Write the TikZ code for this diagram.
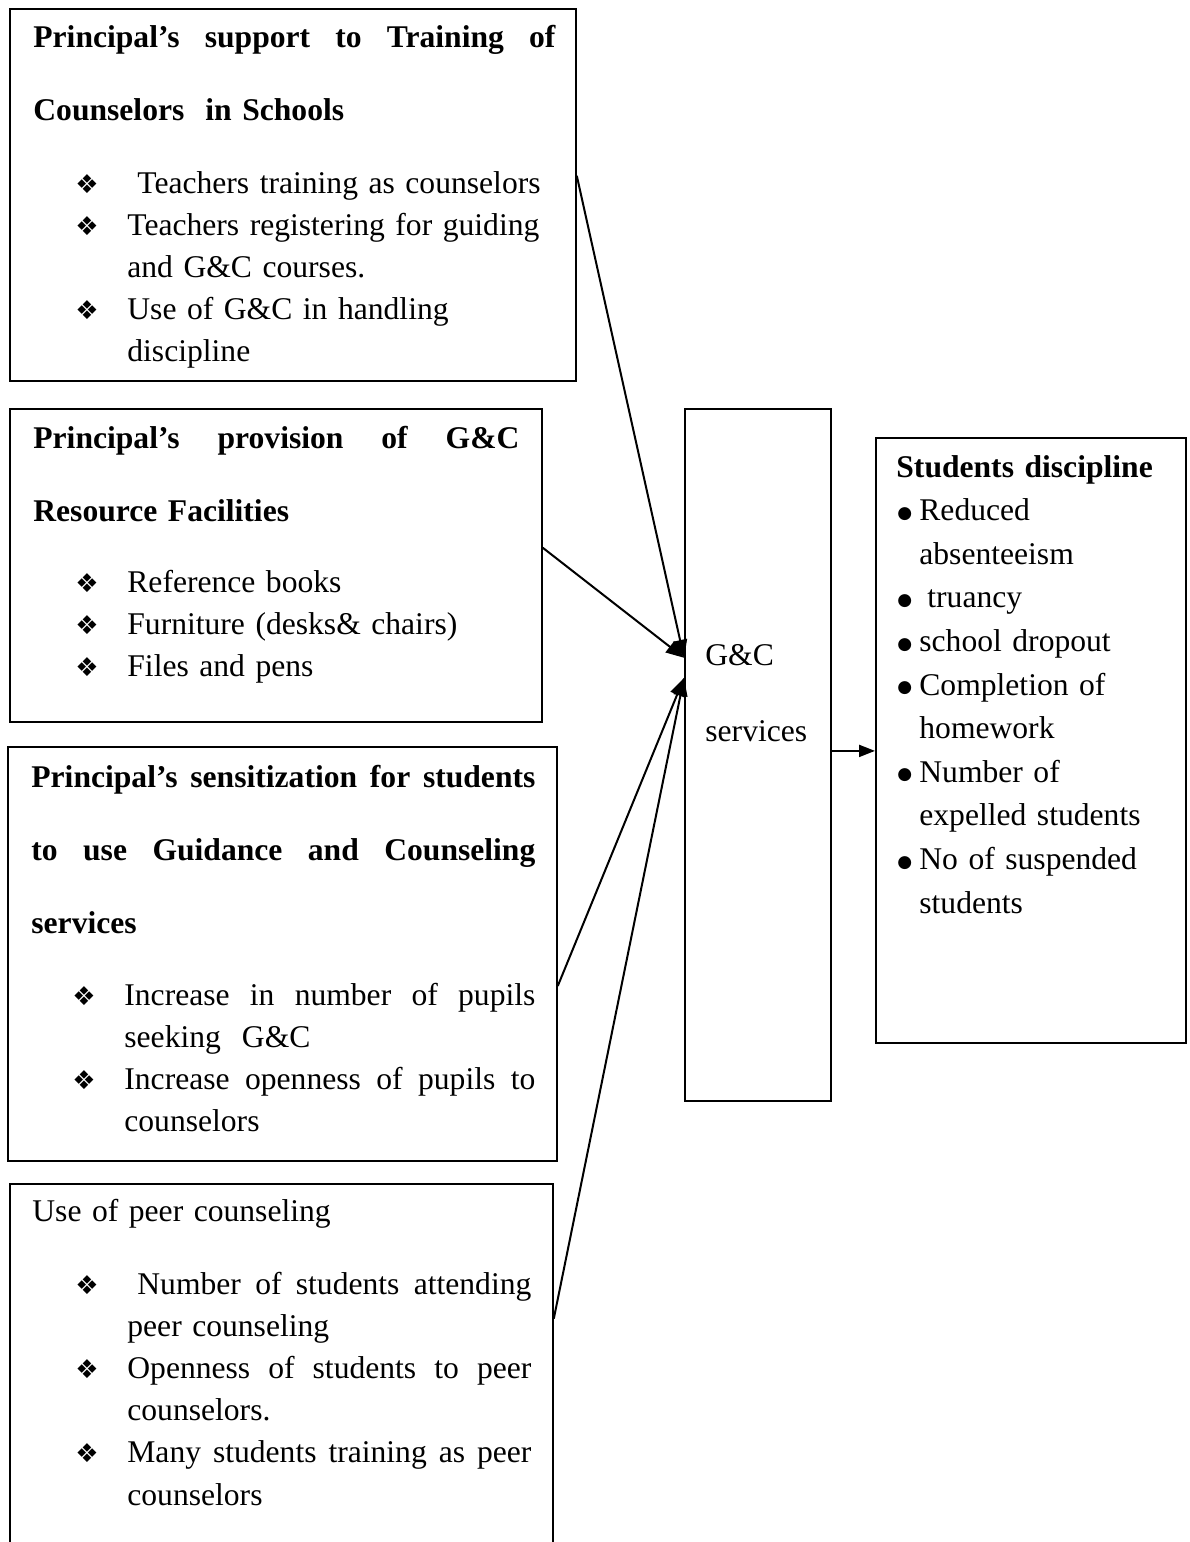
\documentclass[tikz,border=0pt]{standalone}
\usepackage{fontspec}
\setmainfont{Liberation Serif}
\newfontfamily\djv{DejaVu Sans}
\usetikzlibrary{arrows.meta,calc}
\newcommand{\dia}{{\djv\fontsize{13pt}{13pt}\selectfont ❖}}
\newcommand{\itm}{\makebox[26pt][l]{\dia}}
\newcommand{\cnt}{\hspace*{26pt}}
\newcommand{\bul}{\makebox[11.5pt][l]{\hspace*{0.5pt}\raisebox{1.2pt}{\djv\fontsize{8.5pt}{8.5pt}\selectfont ●}}}
\newcommand{\bcnt}{\hspace*{11.5pt}}
\newcommand{\jl}[2]{\leavevmode\hbox to #1{\spaceskip=0.25em plus 1fil\relax\xspaceskip=\spaceskip #2}}
\tikzset{
  frame/.style={draw, line width=0.9pt, rectangle, inner sep=0pt, anchor=north west},
  txt/.style={anchor=base west, inner sep=0pt, align=left, text width=265pt,
    font=\fontsize{15.8pt}{21.1pt}\selectfont},
  link/.style={draw, line width=1pt, -{Triangle[length=9pt,width=7pt]}},
  shortlink/.style={draw, line width=1pt, -{Triangle[length=8pt,width=6pt]}},
}
\begin{document}
\begin{tikzpicture}[x=0.5pt,y=-0.5pt]
\useasboundingbox (0,0) rectangle (1189,1542);
\clip (0,0) rectangle (1189,1542);
% boxes
\node[frame, minimum width=283pt, minimum height=186pt] (b1) at (9,8) {};
\node[frame, minimum width=266pt, minimum height=156.5pt] (b2) at (9,408) {};
\node[frame, minimum width=274.5pt, minimum height=207pt] (b3) at (7,746) {};
\node[frame, minimum width=271.5pt, minimum height=188.5pt] (b4) at (9,1183) {};
\node[frame, minimum width=73pt, minimum height=346pt] (gc) at (684,408) {};
\node[frame, minimum width=155pt, minimum height=302.5pt] (sd) at (875,437) {};
% texts
\node[txt] (h1) at (33,47) {\bfseries\jl{261pt}{Principal’s support to Training of}\\[15.4pt]Counselors\ \ in Schools};
\node[txt] (l1) at (75,193) {\itm\hspace*{5pt}Teachers training as counselors\\ \itm Teachers registering for guiding\\ \cnt and G\&C courses.\\ \itm Use of G\&C in handling\\ \cnt discipline};
\node[txt] (h2) at (33,448) {\bfseries\jl{243pt}{Principal’s provision of G\&C}\\[15.4pt]Resource Facilities};
\node[txt] (l2) at (75,592) {\itm Reference books\\ \itm Furniture (desks\& chairs)\\ \itm Files and pens};
\node[txt] (h3) at (31,787) {\bfseries\jl{252pt}{Principal’s sensitization for students}\\[15.4pt]\jl{252pt}{to use Guidance and Counseling}\\[15.4pt]services};
\node[txt] (l3) at (72,1005) {\itm\jl{205.5pt}{Increase in number of pupils}\\ \cnt seeking\ \ G\&C\\ \itm\jl{205.5pt}{Increase openness of pupils to}\\ \cnt counselors};
\node[txt] (h4) at (32,1221) {Use of peer counseling};
\node[txt] (l4) at (75,1294) {\itm\hspace*{5pt}\jl{197pt}{Number of students attending}\\ \cnt peer counseling\\ \itm\jl{202pt}{Openness of students to peer}\\ \cnt counselors.\\ \itm\jl{202pt}{Many students training as peer}\\ \cnt counselors};
\node[txt, text width=60pt] (g1) at (705,665) {G\&C\\[17pt]services};
\node[txt, text width=145pt, font=\fontsize{15.8pt}{21.8pt}\selectfont] (s1) at (896,477) {\textbf{Students discipline}\\ \bul Reduced\\ \bcnt absenteeism\\ \bul\hspace*{4pt}truancy\\ \bul school dropout\\ \bul Completion of\\ \bcnt homework\\ \bul Number of\\ \bcnt expelled students\\ \bul No of suspended\\ \bcnt students};
% connectors
\coordinate (tA) at ($(gc.north west)!0.36!(gc.south west)$);
\coordinate (tB) at ($(gc.north west)!0.389!(gc.south west)$);
\draw[link] ($(b1.north east)!0.449!(b1.south east)$) -- (tA);
\draw[link] ($(b2.north east)!0.444!(b2.south east)$) -- (tA);
\draw[link] ($(b3.north east)!0.577!(b3.south east)$) -- (tB);
\draw[link] ($(b4.north east)!0.358!(b4.south east)$) -- (tB);
\draw[shortlink] ([yshift=2pt]gc.east) -- ([yshift=2pt]gc.east -| sd.west);
\end{tikzpicture}
\end{document}
